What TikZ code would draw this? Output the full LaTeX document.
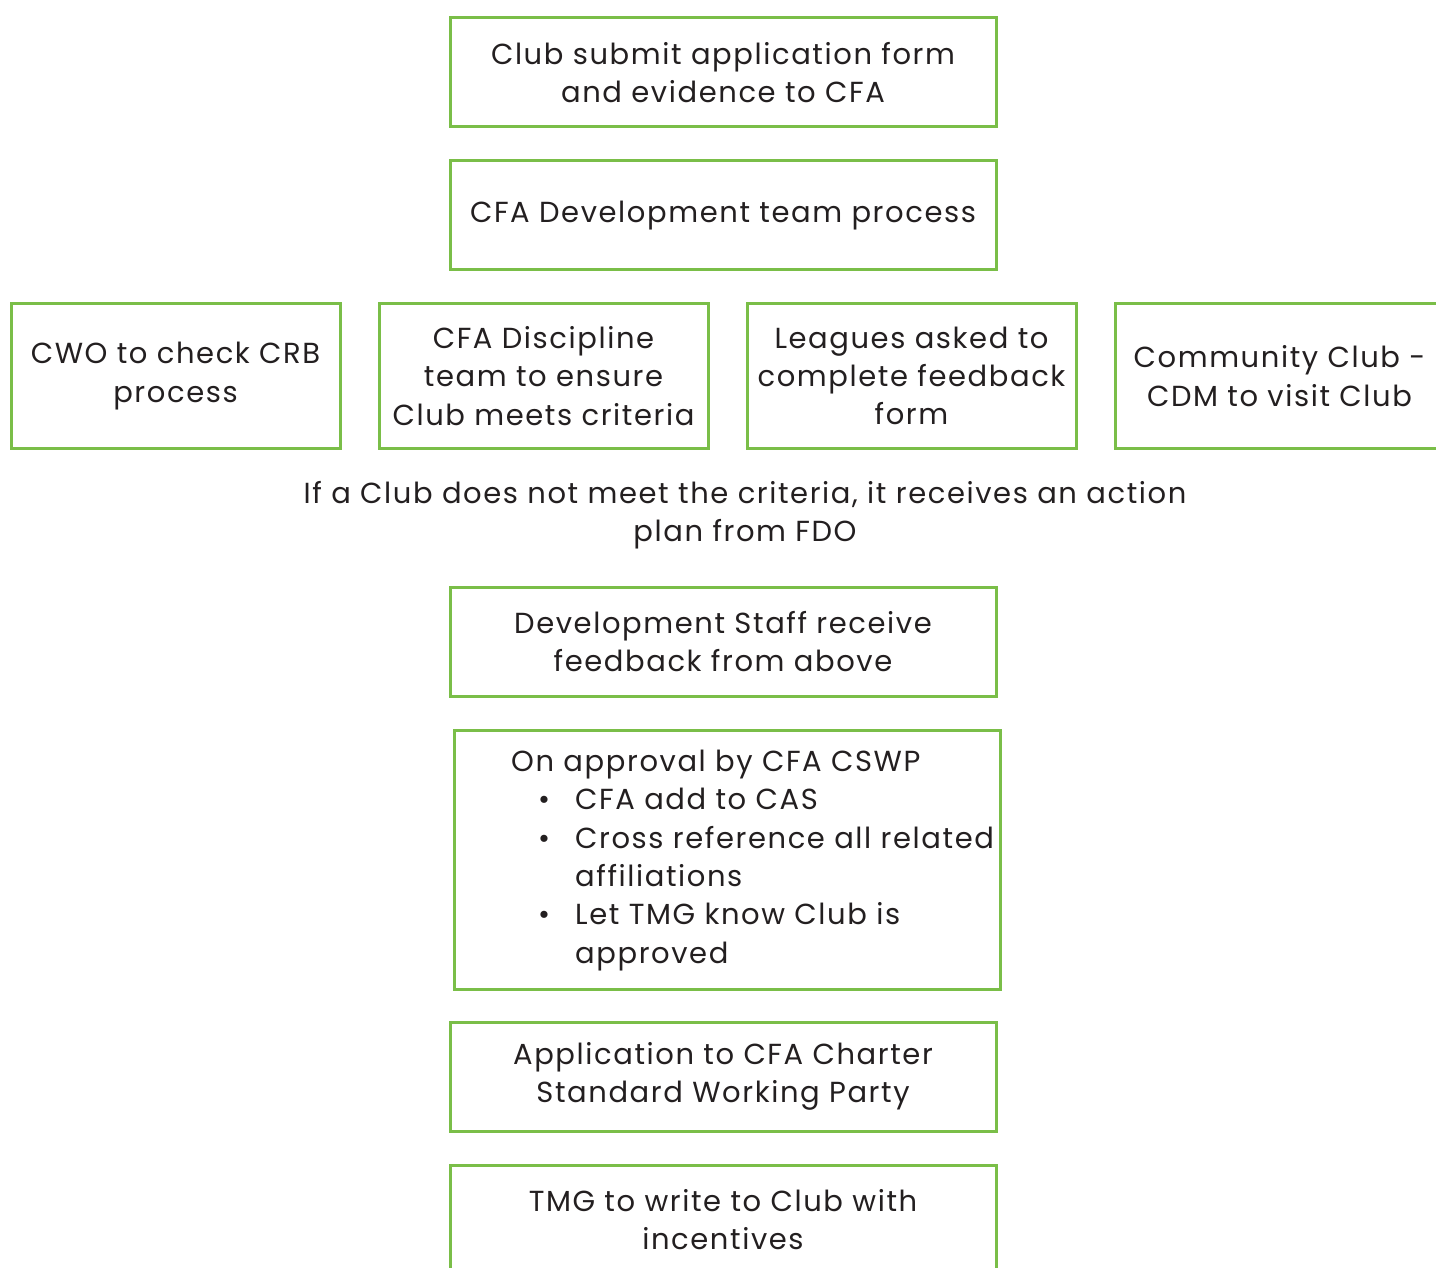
\documentclass[tikz,border=0pt]{standalone}
\usepackage{fontspec}
\setmainfont[LetterSpace=5.5]{Poppins}
\usepackage{tikz}
\definecolor{boxgreen}{RGB}{122,190,72}
\definecolor{inkgrey}{RGB}{35,31,32}

\begin{document}
\begin{tikzpicture}[x=1pt,y=-1pt,
  stepbox/.style={draw=boxgreen,line width=3pt,align=center,text=inkgrey,
    inner sep=0pt,font=\fontsize{29}{38.3}\selectfont},
  midbox/.style={stepbox,minimum width=546pt,minimum height=109pt},
  rowbox/.style={stepbox,minimum width=329pt,minimum height=144pt}]
\useasboundingbox (0,0) rectangle (1436,1268);
\node[midbox] (submit) at (723,72.5) {Club submit application form\\and evidence to CFA};
\node[midbox] (devteam) at (723,215.5) {CFA Development team process};
\node[rowbox] (cwo) at (175.5,376) {CWO to check CRB\\process};
\node[rowbox] (discipline) at (543.5,376) {CFA Discipline\\team to ensure\\Club meets criteria};
\node[rowbox] (leagues) at (911.5,376) {Leagues asked to\\complete feedback\\form};
\node[rowbox] (community) at (1279.5,376) {Community Club -\\CDM to visit Club};
\node[align=center,text=inkgrey,font=\fontsize{29}{38.3}\selectfont] (notmet) at (745,515)
  {If a Club does not meet the criteria, it receives an action\\plan from FDO};
\node[midbox] (feedback) at (723,641.5) {Development Staff receive\\feedback from above};
\node[stepbox,minimum width=546pt,minimum height=259pt] (approval) at (727,859.5) {};
\node[anchor=north west,align=left,text=inkgrey,inner sep=0pt,
  font=\fontsize{29}{38.3}\selectfont] (approvaltext) at (511,750)
  {On approval by CFA CSWP\\
   \hspace*{27pt}\makebox[37pt][l]{\textbullet}CFA add to CAS\\
   \hspace*{27pt}\makebox[37pt][l]{\textbullet}Cross reference all related\\
   \hspace*{64pt}affiliations\\
   \hspace*{27pt}\makebox[37pt][l]{\textbullet}Let TMG know Club is\\
   \hspace*{64pt}approved};
\node[midbox] (charter) at (723,1076.5) {Application to CFA Charter\\Standard Working Party};
\node[midbox] (incentives) at (723,1219.5) {TMG to write to Club with\\incentives};
\end{tikzpicture}
\end{document}
